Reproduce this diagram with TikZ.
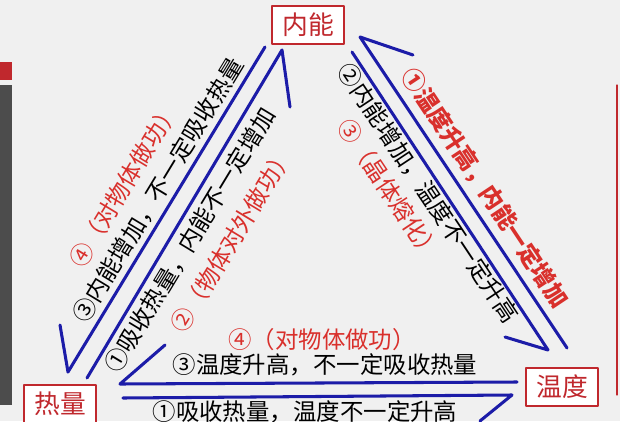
\documentclass[tikz,border=0pt]{standalone}
\usepackage{fontspec}
\setmainfont{Noto Sans CJK SC}
\usepackage{xcolor}
\definecolor{boxred}{HTML}{C0282D}
\definecolor{txtred}{HTML}{D9302C}
\definecolor{lineblue}{HTML}{1C1CA8}
\usetikzlibrary{positioning}

\begin{document}
\begin{tikzpicture}[x=0.03cm, y=-0.03cm, line join=round, line cap=round]

    \tikzstyle{every node}=[font=\fontsize{20pt}{22pt}\selectfont, inner sep=0pt]
    \tikzstyle{qty}=[draw=boxred, line width=1.6pt, fill=white, text=boxred, font=\fontsize{22pt}{24pt}\selectfont, minimum width=72*0.03cm, minimum height=38*0.03cm]
    \tikzstyle{harp}=[draw=lineblue, line width=2.6pt]
    \tikzstyle{red}=[text=txtred]

    % background
    \fill[gray!12] (0,0) rectangle (620,421);
    \useasboundingbox (0,0) rectangle (620,421);
    \fill[boxred] (0,62) rectangle (12,80);
    \fill[black!70] (0,85) rectangle (12,405);
    \draw[boxred, line width=1pt] (617,85) -- (617,395);

    % quantities
    \node[qty] (U) at (308,25) {内能};
    \node[qty] (Q) at (60,404) {热量};
    \node[qty] (T) at (562,387) {温度};

    % end points
    \coordinate (a1) at (265,47);  \coordinate (a2) at (68,372);  \coordinate (a3) at (60,325);
    \coordinate (b1) at (87,378);  \coordinate (b2) at (282,50);  \coordinate (b3) at (290,107);
    \coordinate (c1) at (517,382); \coordinate (c2) at (120,384); \coordinate (c3) at (165,345);
    \coordinate (d1) at (123,398); \coordinate (d2) at (512,395); \coordinate (d3) at (480,421);
    \coordinate (e1) at (567,348); \coordinate (e2) at (360,37);  \coordinate (e3) at (413,55);
    \coordinate (f1) at (352,52);  \coordinate (f2) at (548,350); \coordinate (f3) at (505,337);

    \path[harp] (a1) -- (a2) -- (a3);
    \path[harp] (b1) -- (b2) -- (b3);
    \path[harp] (c1) -- (c2) -- (c3);
    \path[harp] (d1) -- (d2) -- (d3);
    \path[harp] (e1) -- (e2) -- (e3);
    \path[harp] (f1) -- (f2) -- (f3);

    % U -- Q
    \node[red, rotate=58.8] (uq4) at (124,185) {④（对物体做功）};
    \node[rotate=58.8] (uq3) at (158,190) {③内能增加，不一定吸收热量};
    \node[rotate=58.8] (uq1) at (190,240) {①吸收热量，内能不一定增加};
    \node[red, rotate=58.8] (uq2) at (232,240) {②（物体对外做功）};

    % U -- T
    \node[red, font=\fontsize{20pt}{22pt}\selectfont\bfseries, rotate=-56.4] (ut1) at (485,188) {①温度升高，内能一定增加};
    \node[rotate=-56.4] (ut2) at (428,193) {②内能增加，温度不一定升高};
    \node[red, rotate=-56.4] (ut3) at (389,190) {③（晶体熔化）};

    % Q -- T
    \node[red] (qt4) at (322,340) {④（对物体做功）};
    \node (qt3) at (325,365) {③温度升高，不一定吸收热量};
    \node (qt1) at (305,412) {①吸收热量，温度不一定升高};
\end{tikzpicture}
\end{document}
